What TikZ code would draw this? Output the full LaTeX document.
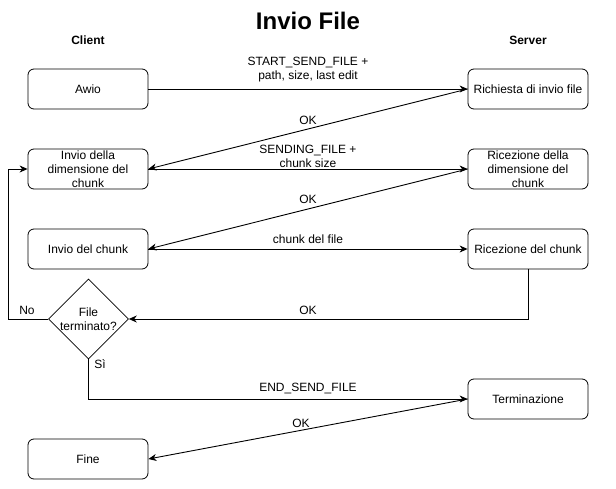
\documentclass[tikz,border=0pt]{standalone}
\usepackage{fontspec}
\setmainfont{Liberation Sans}
\usetikzlibrary{shapes.geometric,arrows.meta}
\begin{document}
\begin{tikzpicture}[x=1pt,y=-1pt,
  every node/.style={font=\fontsize{12}{14}\selectfont},
  box/.style={draw, rectangle, rounded corners=6pt, minimum width=120pt, minimum height=40pt, inner sep=0pt, align=center, line width=0.8pt},
  dec/.style={draw, diamond, minimum width=80pt, minimum height=80pt, inner sep=-3pt, align=center, line width=0.6pt},
  lbl/.style={inner sep=0pt, align=center},
  arr/.style={line width=0.9pt, -{Stealth[length=8pt,width=7pt,inset=2.5pt]}},
  head/.style={font=\fontsize{12}{14}\selectfont\bfseries, inner sep=0pt}
]
\useasboundingbox (0,0) rectangle (616,489);
\node[inner sep=0pt, font=\fontsize{24}{28}\selectfont\bfseries] (title) at (308,21) {Invio File};
\node[head] (client) at (88,40) {Client};
\node[head] (server) at (528,40) {Server};

\node[box] (awio) at (88,89) {Awio};
\node[box] (rich) at (528,89) {Richiesta di invio file};
\node[box] (idim) at (88,169) {Invio della\\dimensione del\\chunk};
\node[box] (rdim) at (528,169) {Ricezione della\\dimensione del\\chunk};
\node[box] (ichunk) at (88,249) {Invio del chunk};
\node[box] (rchunk) at (528,249) {Ricezione del chunk};
\node[dec] (dia) at (88.5,319) {File\\terminato?};
\node[box] (term) at (528,399) {Terminazione};
\node[box] (fine) at (88,459) {Fine};

\node[lbl] (l1) at (308,69.5) {START\_SEND\_FILE +\\path, size, last edit};
\node[lbl] (ok1) at (308,120) {OK};
\node[lbl] (l2) at (308,156) {SENDING\_FILE +\\chunk size};
\node[lbl] (ok2) at (308,199) {OK};
\node[lbl] (l3) at (308,239) {chunk del file};
\node[lbl] (ok3) at (308,310) {OK};
\node[lbl] (no) at (27,310) {No};
\node[lbl] (si) at (100,364) {Sì};
\node[lbl] (l4) at (308,389) {END\_SEND\_FILE};
\node[lbl] (ok4) at (301,423) {OK};

\coordinate (loop) at (8,169);

\draw[arr] (awio.east) -- (rich.west);
\draw[arr] (rich.west) -- (idim.east);
\draw[arr] (idim.east) -- (rdim.west);
\draw[arr] (rdim.west) -- (ichunk.east);
\draw[arr] (ichunk.east) -- (rchunk.west);
\draw[arr] (rchunk.south) |- (dia.east);
\draw[arr] (dia.west) -| (loop) -- (idim.west);
\draw[arr] (dia.south) |- (term.west);
\draw[arr] (term.west) -- (fine.east);
\end{tikzpicture}
\end{document}
